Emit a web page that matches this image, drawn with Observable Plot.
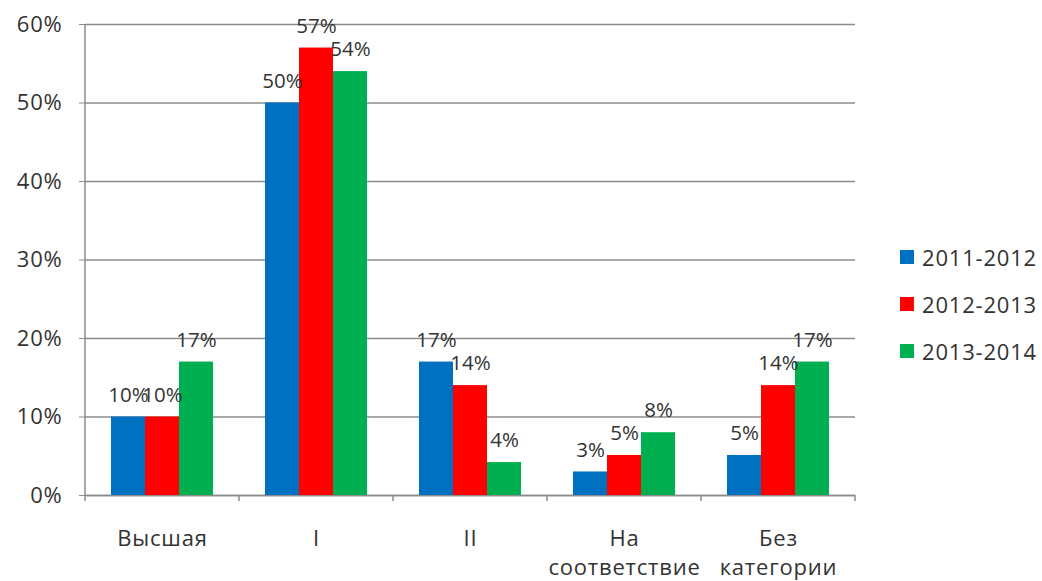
<!DOCTYPE html>
<html>
<head>
<meta charset="utf-8">
<script src="https://cdn.jsdelivr.net/npm/d3@7"></script>
<script src="https://cdn.jsdelivr.net/npm/@observablehq/plot@0.6"></script>
<style>
  html, body { margin: 0; padding: 0; background: #fff; }
  #wrap { position: relative; width: 1042px; height: 581px; font-family: "Open Sans", sans-serif; }
  #wrap svg g[aria-label="y-axis tick label"] text,
  #wrap svg g[aria-label="fx-axis tick label"] text { letter-spacing: 0.8px; }
  #legend { position: absolute; left: 900px; top: 233px; color: #333; font-size: 22px; letter-spacing: 0.8px; }
  #legend .row { display: flex; align-items: center; height: 47px; }
  #legend .sw { width: 14px; height: 14px; margin-right: 8px; }
</style>
</head>
<body>
<div id="wrap"><div id="legend"></div></div>
<script>
const categories = ["Высшая", "I", "II", "На\nсоответствие", "Без\nкатегории"];
const series = ["2011-2012", "2012-2013", "2013-2014"];
const colors = ["#0070C0", "#FF0000", "#00B050"];
const values2011 = [10, 50, 17, 3, 5.1];
const values2012 = [10, 57, 14, 5.1, 14];
const values2013 = [17, 54, 4.2, 8, 17];
const labels2011 = ["10%", "50%", "17%", "3%", "5%"];
const labels2012 = ["10%", "57%", "14%", "5%", "14%"];
const labels2013 = ["17%", "54%", "4%", "8%", "17%"];
const yTicks = [0, 10, 20, 30, 40, 50, 60];

const allValues = [values2011, values2012, values2013];
const allLabels = [labels2011, labels2012, labels2013];
const data = [];
categories.forEach((c, i) => {
  series.forEach((s, j) => {
    data.push({category: c, series: s, value: allValues[j][i], label: allLabels[j][i]});
  });
});

const W = 1042, H = 581;
const mL = 83, mR = 185, mT = 24, mB = 86;
const axisColor = "#8c8c8c";

const plot = Plot.plot({
  width: W,
  height: H,
  marginLeft: mL,
  marginRight: mR,
  marginTop: mT,
  marginBottom: mB,
  style: {fontFamily: "'Open Sans', sans-serif", fontSize: "22px", color: "#333", background: "#fff", overflow: "visible"},
  fx: {domain: categories, padding: 0, label: null},
  x: {domain: series, paddingInner: 0, paddingOuter: 0.74, axis: null},
  y: {domain: [0, 60], label: null},
  color: {domain: series, range: colors},
  marks: [
    Plot.gridY(yTicks, {stroke: axisColor, strokeOpacity: 1, strokeWidth: 1.5}),
    Plot.ruleY([0], {stroke: axisColor, strokeWidth: 1.5}),
    Plot.barY(data, {fx: "category", x: "series", y: "value", fill: "series"}),
    Plot.text(data, {fx: "category", x: "series", y: "value", text: "label", dy: -22, fontSize: 20.5, fill: "#333"}),
    Plot.axisY(yTicks, {anchor: "left", tickFormat: d => d + "%", tickSize: 6, tickPadding: 17, stroke: axisColor, fontSize: 22, fill: "#333", label: null}),
    Plot.axisFx({anchor: "bottom", tickSize: 0, tickPadding: 30, fontSize: 22, lineHeight: 1.32, fill: "#333", label: null})
  ]
});

document.getElementById("wrap").prepend(plot);

// Left axis line and category boundary ticks, derived from the plot's scales
const fx = plot.scale("fx");
const y = plot.scale("y");
const svg = d3.select(plot);
const y0 = y.apply(0), yTop = y.apply(60);
const bounds = categories.map(c => fx.apply(c)).concat([fx.apply(categories[categories.length - 1]) + fx.bandwidth]);
const left = bounds[0];
svg.append("line")
  .attr("x1", left).attr("x2", left).attr("y1", yTop).attr("y2", y0)
  .attr("stroke", axisColor).attr("stroke-width", 1.5);
svg.append("g").selectAll("line").data(bounds).join("line")
  .attr("x1", d => d).attr("x2", d => d).attr("y1", y0).attr("y2", y0 + 6)
  .attr("stroke", axisColor).attr("stroke-width", 1.5);

// Legend
const legend = d3.select("#legend");
series.forEach((s, i) => {
  const row = legend.append("div").attr("class", "row");
  row.append("div").attr("class", "sw").style("background", colors[i]);
  row.append("span").text(s);
});
</script>
</body>
</html>
